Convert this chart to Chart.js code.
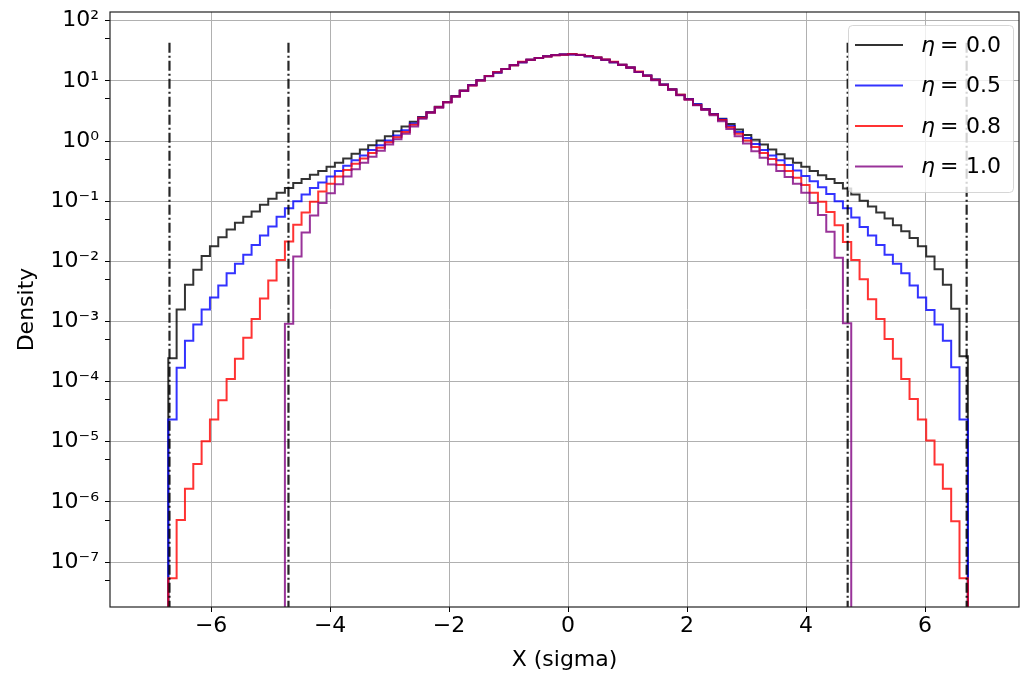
<!DOCTYPE html>
<html>
<head>
<meta charset="utf-8">
<script src="https://cdn.jsdelivr.net/npm/chart.js@4.4.1/dist/chart.umd.min.js"></script>
<style>
  html, body { margin: 0; padding: 0; background: #fff; }
  canvas { display: block; }
</style>
</head>
<body>
<canvas id="histChart" width="1020" height="674"></canvas>
<script>
// histogram binning (96 bins of 0.14 from -6.72 to 6.72)
const binStart = -6.72;
const binWidth = 0.14;
const binCount = 96;

const etaLabels = ["0.0", "0.5", "0.8", "1.0"];

// density per bin
const eta00 = [
  2.45e-4, 1.58e-3, 4.07e-3, 7.24e-3, 1.23e-2, 1.78e-2, 2.51e-2, 3.39e-2, 4.37e-2, 5.50e-2,
  6.76e-2, 8.71e-2, 0.110, 0.138, 0.166, 0.200, 0.234, 0.275, 0.316, 0.372,
  0.437, 0.513, 0.617, 0.724, 0.851, 1.02, 1.20, 1.45, 1.74, 2.09,
  2.51, 3.02, 3.72, 4.47, 5.62, 6.92, 8.51, 10.2, 12.0, 13.8,
  15.8, 18.2, 20.4, 22.4, 24.0, 25.7, 26.9, 27.5, 27.9, 26.9,
  25.7, 24.5, 22.4, 20.4, 18.6, 16.6, 14.1, 12.3, 10.5, 8.71,
  7.24, 5.89, 5.01, 4.07, 3.39, 2.82, 2.34, 1.91, 1.55, 1.26,
  1.05, 0.871, 0.724, 0.603, 0.513, 0.437, 0.372, 0.316, 0.269, 0.234,
  0.200, 0.162, 0.129, 0.102, 8.13e-2, 6.46e-2, 5.13e-2, 3.98e-2, 3.16e-2, 2.45e-2,
  1.78e-2, 1.20e-2, 7.41e-3, 4.07e-3, 1.62e-3, 2.63e-4
];
const eta05 = [
  2.34e-5, 1.70e-4, 4.79e-4, 8.91e-4, 1.58e-3, 2.51e-3, 3.98e-3, 6.31e-3, 9.12e-3, 1.29e-2,
  1.86e-2, 2.69e-2, 3.80e-2, 5.50e-2, 7.59e-2, 0.100, 0.129, 0.166, 0.204, 0.257,
  0.316, 0.389, 0.479, 0.575, 0.708, 0.851, 1.02, 1.23, 1.51, 1.95,
  2.45, 3.02, 3.67, 4.47, 5.56, 6.84, 8.51, 10.2, 12.0, 13.8,
  15.8, 18.4, 20.4, 22.4, 24.0, 25.7, 26.9, 27.5, 27.5, 26.9,
  25.7, 24.3, 22.4, 20.4, 18.6, 16.8, 14.1, 12.3, 10.5, 8.71,
  7.24, 5.82, 5.01, 4.07, 3.39, 2.82, 2.29, 1.78, 1.41, 1.12,
  0.891, 0.708, 0.575, 0.479, 0.398, 0.324, 0.263, 0.214, 0.170, 0.132,
  0.100, 7.59e-2, 5.37e-2, 3.72e-2, 2.69e-2, 1.86e-2, 1.29e-2, 9.12e-3, 6.31e-3, 3.98e-3,
  2.51e-3, 1.55e-3, 8.91e-4, 4.79e-4, 1.74e-4, 2.34e-5
];
const eta08 = [
  5.37e-8, 5.01e-7, 1.66e-6, 4.27e-6, 1.02e-5, 2.34e-5, 4.90e-5, 1.10e-4, 2.40e-4, 5.37e-4,
  1.10e-3, 2.40e-3, 4.79e-3, 1.05e-2, 2.14e-2, 4.07e-2, 6.46e-2, 9.77e-2, 0.145, 0.195,
  0.257, 0.331, 0.417, 0.513, 0.631, 0.776, 0.955, 1.15, 1.41, 1.86,
  2.43, 2.99, 3.63, 4.42, 5.50, 6.84, 8.41, 10.1, 12.0, 14.0,
  15.8, 18.2, 20.7, 22.4, 24.0, 25.4, 26.6, 27.2, 27.9, 27.2,
  26.0, 24.5, 22.6, 20.7, 18.6, 16.6, 14.3, 12.2, 10.4, 8.61,
  7.16, 5.89, 4.90, 3.98, 3.35, 2.75, 2.24, 1.70, 1.32, 1.02,
  0.794, 0.631, 0.501, 0.398, 0.316, 0.245, 0.186, 0.138, 9.77e-2, 6.61e-2,
  3.98e-2, 2.09e-2, 1.05e-2, 5.01e-3, 2.34e-3, 1.10e-3, 5.13e-4, 2.40e-4, 1.10e-4, 5.13e-5,
  2.34e-5, 1.05e-5, 4.17e-6, 1.66e-6, 4.79e-7, 5.37e-8
];
const eta10 = [
  0, 0, 0, 0, 0, 0, 0, 0, 0, 0,
  0, 0, 0, 0, 9.12e-4, 1.20e-2, 3.02e-2, 5.75e-2, 9.33e-2, 0.135,
  0.191, 0.257, 0.339, 0.437, 0.550, 0.692, 0.871, 1.07, 1.32, 1.74,
  2.34, 2.95, 3.59, 4.37, 5.43, 6.76, 8.41, 10.1, 11.9, 13.8,
  15.8, 18.2, 20.4, 22.4, 24.0, 25.4, 26.6, 27.5, 27.5, 26.9,
  25.7, 24.3, 22.4, 20.4, 18.4, 16.4, 14.1, 12.2, 10.2, 8.51,
  7.08, 5.75, 4.84, 3.94, 3.27, 2.69, 2.14, 1.58, 1.20, 0.912,
  0.676, 0.525, 0.407, 0.316, 0.251, 0.195, 0.138, 9.33e-2, 5.89e-2, 3.09e-2,
  1.15e-2, 9.33e-4, 0, 0, 0, 0, 0, 0, 0, 0,
  0, 0, 0, 0, 0, 0
];

// dash-dot cut lines
const cutoffs = [-6.7, -4.7, 4.7, 6.7];
const cutoffTop = 46;

const xMin = -7.70, xMax = 7.58;
const yMin = 1.79e-8, yMax = 139.6;
const xTicks = [-6, -4, -2, 0, 2, 4, 6];
const yMajorTicks = [1e-7, 1e-6, 1e-5, 1e-4, 1e-3, 1e-2, 1e-1, 1e0, 1e1, 1e2];
const yTickLabels = ["10⁻⁷", "10⁻⁶", "10⁻⁵", "10⁻⁴", "10⁻³", "10⁻²", "10⁻¹", "10⁰", "10¹", "10²"];
const yMinorTicks = [5e-8, 5e-7, 5e-6, 5e-5, 5e-4, 5e-3, 5e-2, 5e-1, 5e0, 5e1];

const FONT = "DejaVu Sans";
const FLOOR = 1e-12; // stands in for empty bins (below the axis)
const colors = ["rgba(0,0,0,0.8)", "rgba(0,0,255,0.8)", "rgba(255,0,0,0.8)", "rgba(128,0,128,0.8)"];

const edges = [];
for (let i = 0; i <= binCount; i++) edges.push(binStart + i * binWidth);

// matplotlib-like 'step' outline
function stepPoints(vals) {
  const pts = [{ x: edges[0], y: FLOOR }];
  vals.forEach((v, i) => pts.push({ x: edges[i], y: v > 0 ? v : FLOOR }));
  pts.push({ x: edges[vals.length], y: FLOOR });
  return pts;
}

const series = [eta00, eta05, eta08, eta10];
const datasets = series.map((vals, i) => ({
  label: "η = " + etaLabels[i],
  data: stepPoints(vals),
  borderColor: colors[i],
  borderWidth: 2,
  pointRadius: 0,
  stepped: true,
  fill: false,
  order: 4 - i,
}));
cutoffs.forEach((c) => datasets.push({
  label: "",
  data: [{ x: c, y: FLOOR }, { x: c, y: cutoffTop }],
  borderColor: "rgba(0,0,0,0.85)",
  borderWidth: 2.2,
  borderDash: [10, 3, 2, 3],
  pointRadius: 0,
  fill: false,
  order: 0,
}));

const framePlugin = {
  id: "frame",
  afterDatasetsDraw(chart) {
    const { ctx, chartArea: a } = chart;
    ctx.save();
    ctx.strokeStyle = "#222";
    ctx.lineWidth = 1.2;
    ctx.strokeRect(a.left, a.top, a.right - a.left, a.bottom - a.top);
    ctx.restore();
  },
};

const legendPlugin = {
  id: "etaLegend",
  afterDraw(chart) {
    const { ctx, chartArea: a } = chart;
    const w = 165, h = 167;
    const x0 = a.right - 6 - w, y0 = a.top + 13;
    ctx.save();
    ctx.beginPath();
    ctx.roundRect(x0 + 0.5, y0 + 0.5, w, h, 4);
    ctx.fillStyle = "rgba(255,255,255,0.8)";
    ctx.fill();
    ctx.strokeStyle = "rgba(204,204,204,0.8)";
    ctx.lineWidth = 1;
    ctx.stroke();
    ctx.textBaseline = "middle";
    ctx.textAlign = "left";
    etaLabels.forEach((lab, i) => {
      const y = y0 + 20 + i * 40.5;
      ctx.beginPath();
      ctx.moveTo(x0 + 7, y);
      ctx.lineTo(x0 + 55, y);
      ctx.strokeStyle = colors[i];
      ctx.lineWidth = 2;
      ctx.stroke();
      ctx.fillStyle = "#000";
      ctx.font = "italic 22px '" + FONT + "'";
      ctx.fillText("η", x0 + 73, y + 1);
      ctx.font = "22px '" + FONT + "'";
      ctx.fillText("=", x0 + 92, y + 1);
      ctx.fillText(lab, x0 + 118, y + 1);
    });
    ctx.restore();
  },
};

const ctx = document.getElementById("histChart").getContext("2d");
const chart = new Chart(ctx, {
  type: "line",
  data: { datasets: datasets },
  options: {
    responsive: false,
    animation: false,
    devicePixelRatio: 1,
    events: [],
    layout: { padding: { top: 12, right: 1, bottom: 0, left: 0 } },
    plugins: { legend: { display: false }, tooltip: { enabled: false } },
    scales: {
      x: {
        type: "linear",
        min: xMin,
        max: xMax,
        afterBuildTicks: (s) => { s.ticks = xTicks.map((v) => ({ value: v })); },
        afterFit: (s) => { s.height = 67; s.paddingLeft = 0; s.paddingRight = 0; },
        ticks: {
          color: "#000",
          font: { family: FONT, size: 22 },
          padding: 1,
          maxRotation: 0,
          autoSkip: false,
          callback: (v) => (v < 0 ? "\u2212" + Math.abs(v) : String(v)),
        },
        grid: { color: "#b0b0b0", lineWidth: 1, tickLength: 5, tickColor: "#000" },
        border: { display: false },
        title: {
          display: true,
          text: "X (sigma)",
          color: "#000",
          font: { family: FONT, size: 22 },
          padding: { top: 0, bottom: 1 },
        },
      },
      y: {
        type: "logarithmic",
        min: yMin,
        max: yMax,
        afterBuildTicks: (s) => {
          s.ticks = yMinorTicks.concat(yMajorTicks).sort((p, q) => p - q).map((v) => ({ value: v }));
        },
        afterFit: (s) => { s.width = 110; s.paddingTop = 0; s.paddingBottom = 0; },
        ticks: {
          color: "#000",
          font: { family: FONT, size: 22 },
          padding: 6,
          autoSkip: false,
          callback: (v) => {
            const i = yMajorTicks.indexOf(v);
            return i >= 0 ? yTickLabels[i] : "";
          },
        },
        grid: {
          color: (c) => (yMajorTicks.includes(c.tick && c.tick.value) ? "#b0b0b0" : "rgba(0,0,0,0)"),
          lineWidth: 1,
          tickLength: 5,
          tickColor: "#000",
        },
        border: { display: false },
        title: {
          display: true,
          text: "Density",
          color: "#000",
          font: { family: FONT, size: 22 },
          padding: { top: 14, bottom: 0 },
        },
      },
    },
  },
  plugins: [framePlugin, legendPlugin],
});
</script>
</body>
</html>
